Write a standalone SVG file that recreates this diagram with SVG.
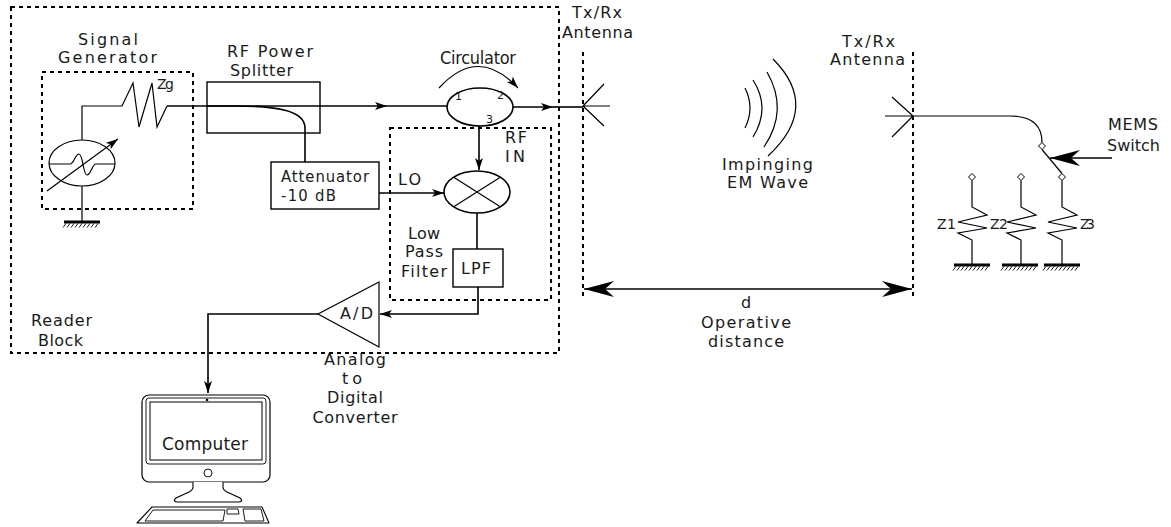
<svg xmlns="http://www.w3.org/2000/svg" xmlns:xlink="http://www.w3.org/1999/xlink" width="1171" height="527" viewBox="0 0 1171 527">
  <style>
    text { font-family: "DejaVu Sans", Verdana, sans-serif; font-size: 16px; fill: #1a1a1a; }
    .cond { font-family: "DejaVu Sans Condensed", "DejaVu Sans", sans-serif; font-size: 18px; }
    .att { font-size: 16.5px; }
    .small { font-size: 11px; }
    .lbl14 { font-size: 14px; }
    .wire { fill: none; stroke: #000; stroke-width: 1.6; }
    .thin { fill: none; stroke: #000; stroke-width: 1.2; }
    .box { fill: #fff; stroke: #000; stroke-width: 1.4; }
    .dash { fill: none; stroke: #000; stroke-width: 2; stroke-dasharray: 4 4; }
    .arrow { marker-end: url(#ah); }
  </style>
  <defs>
    <marker id="ah" viewBox="0 0 12 8" refX="12" refY="4" markerWidth="12" markerHeight="8" markerUnits="userSpaceOnUse" orient="auto">
      <path d="M0,0 L12,4 L0,8 L3,4 z" fill="#000"/>
    </marker>
    <marker id="stealth" viewBox="0 0 30 16" refX="30" refY="8" markerWidth="30" markerHeight="16" markerUnits="userSpaceOnUse" orient="auto-start-reverse">
      <path d="M30,8 L0,0 L9,8 L0,16 z" fill="#000"/>
    </marker>
    <!-- earth symbol: heavy bar with hatching underneath -->
    <g id="gnd">
      <rect x="-18" y="-1.5" width="36" height="3" fill="#000"/>
      <path d="M-16,1.5 l-3,4 M-12,1.5 l-3,4 M-8,1.5 l-3,4 M-4,1.5 l-3,4 M0,1.5 l-3,4 M4,1.5 l-3,4 M8,1.5 l-3,4 M12,1.5 l-3,4 M16,1.5 l-3,4" stroke="#000" stroke-width="0.9"/>
    </g>
    <!-- switch contact -->
    <path id="term" d="M0,-3.5 L3.5,0 L0,3.5 L-3.5,0 z" fill="#fff" stroke="#000" stroke-width="1"/>
  </defs>

  <rect width="1171" height="527" fill="#fff"/>

  <!-- block outlines -->
  <g id="reader-block">
    <rect class="dash" x="11" y="7" width="548" height="346"/>
    <text x="31" y="326" textLength="61">Reader</text>
    <text x="38" y="346" textLength="45">Block</text>
  </g>

  <g id="signal-generator">
    <rect class="dash" x="42" y="72" width="151" height="137"/>
    <text x="78" y="45" textLength="60">Signal</text>
    <text x="58" y="63" textLength="99">Generator</text>
    <ellipse class="thin" cx="82" cy="163" rx="33" ry="23" fill="#fff"/>
    <path class="thin" d="M49,164 H70 C74,164 75,154 79,154 C83,154 83,175 87,175 C91,175 92,164 96,164 H115"/>
    <path class="thin" d="M82,140 V106 H122 L133,83 L139,127 L152,83 L157,127 L167,106"/>
    <text class="lbl14" x="157" y="89" textLength="17">Zg</text>
    <path class="thin arrow" d="M47,191 L118,139"/>
    <path class="thin" d="M82,186 V222"/>
    <use xlink:href="#gnd" x="82" y="222"/>
  </g>

  <g id="power-splitter">
    <rect class="box" x="207" y="82" width="113" height="51" fill="none"/>
    <text x="227" y="57" textLength="86">RF Power</text>
    <text x="230" y="76" textLength="63">Splitter</text>
  </g>

  <g id="attenuator">
    <rect class="box" x="271" y="162" width="108" height="47"/>
    <text class="cond att" x="281" y="181.5" textLength="88">Attenuator</text>
    <text class="cond att" x="281" y="201" textLength="55">-10 dB</text>
  </g>

  <g id="circulator">
    <ellipse class="wire" cx="480" cy="107" rx="33" ry="19" fill="#fff"/>
    <text class="cond" x="478" y="64" text-anchor="middle" textLength="76">Circulator</text>
    <text class="small" x="455" y="100">1</text>
    <text class="small" x="497" y="99">2</text>
    <text class="small" x="486" y="123">3</text>
    <path class="thin arrow" d="M439,88 Q478,45 518,88"/>
  </g>

  <g id="demod-block">
    <rect class="dash" x="390" y="128" width="161" height="172"/>
    <text x="505" y="143" textLength="22">RF</text>
    <text x="505" y="162" textLength="20">IN</text>
    <text x="398" y="185" textLength="23">LO</text>
    <text x="424" y="239" text-anchor="middle" textLength="32">Low</text>
    <text x="424" y="257" text-anchor="middle" textLength="38">Pass</text>
    <text x="424" y="277" text-anchor="middle" textLength="46">Filter</text>
  </g>

  <g id="mixer">
    <ellipse class="wire" cx="477" cy="192" rx="33" ry="21" fill="#fff"/>
    <path class="thin" d="M453.7,177.2 L500.3,206.8 M500.3,177.2 L453.7,206.8"/>
  </g>

  <g id="lpf">
    <rect class="box" x="453" y="249" width="50" height="38"/>
    <text x="461" y="274" textLength="30">LPF</text>
  </g>

  <g id="adc">
    <path class="thin" d="M379,282 L379,347 L318,314 Z" fill="#fff"/>
    <text x="340" y="319" textLength="33">A/D</text>
    <text x="355" y="365" text-anchor="middle" textLength="62">Analog</text>
    <text x="352" y="384" text-anchor="middle" textLength="20">to</text>
    <text x="355" y="403" text-anchor="middle" textLength="56">Digital</text>
    <text x="355" y="423" text-anchor="middle" textLength="85">Converter</text>
  </g>

  <g id="computer">
    <rect x="142" y="395" width="128" height="87" rx="7" fill="#fff" stroke="#000" stroke-width="1.2"/>
    <rect x="146" y="398" width="120" height="66" rx="3" fill="none" stroke="#000" stroke-width="0.9"/>
    <rect x="150" y="402" width="112" height="58" fill="#fff" stroke="#000" stroke-width="1"/>
    <circle cx="207" cy="400" r="1.3" fill="#000"/>
    <circle cx="208" cy="473" r="4" fill="#fff" stroke="#000" stroke-width="0.9"/>
    <path d="M193,482 V487 Q193,490 189,492 L176,498 Q172,502 178,502 H238 Q244,502 240,498 L227,492 Q223,490 223,487 V482" fill="#fff" stroke="#000" stroke-width="1.1"/>
    <path d="M152,507 H262 L269,523 H137 Z" fill="#fff" stroke="#000" stroke-width="1.1" stroke-linejoin="round"/>
    <path d="M153,510 H225 L223,521 H145 Z" fill="none" stroke="#000" stroke-width="0.9"/>
    <path d="M227,509 H238 L239,514 H227 Z" fill="none" stroke="#000" stroke-width="0.9"/>
    <path d="M243,509 H261 L264,521 H245 Z" fill="none" stroke="#000" stroke-width="0.9"/>
    <text x="162" y="450" style="font-size:17px" textLength="86">Computer</text>
  </g>

  <g id="reader-antenna">
    <path class="dash" d="M583,52 V296"/>
    <path class="thin" d="M583,106 L604,84 M583,106 L604,126 M583,106 H610"/>
    <text x="572" y="18" textLength="50">Tx/Rx</text>
    <text x="562" y="38" textLength="71">Antenna</text>
  </g>

  <g id="em-wave">
    <path class="thin" d="M745,88 Q755,108 745,128"/>
    <path class="thin" d="M753,80 Q771,108 753,137"/>
    <path class="thin" d="M767,72 Q789,110 764,147"/>
    <path class="thin" d="M773,59 Q821,107 768,156"/>
    <text x="722" y="170" textLength="91">Impinging</text>
    <text x="727" y="188" textLength="81">EM Wave</text>
  </g>

  <g id="tag-antenna">
    <path class="dash" d="M913,52 V296"/>
    <path class="thin" d="M913,116 L892,97 M913,116 L892,137 M885,116 H913"/>
    <text x="842" y="47" textLength="53">Tx/Rx</text>
    <text x="830" y="65" textLength="75">Antenna</text>
  </g>

  <g id="mems-switch">
    <path class="thin" d="M1042,149.5 L1062,173.5" stroke-width="1.6"/>
    <use xlink:href="#term" x="1042" y="146"/>
    <use xlink:href="#term" x="1062" y="177"/>
    <text x="1108" y="130" textLength="50">MEMS</text>
    <text x="1107" y="151" textLength="53">Switch</text>
  </g>

  <g id="load-z1">
    <use xlink:href="#term" x="972" y="177"/>
    <path class="thin" d="M972,180.5 V207 L987,215 L958,222 L987,228 L958,233 L972,240 V265"/>
    <use xlink:href="#gnd" x="972" y="265"/>
    <text class="lbl14" x="937" y="229" textLength="19">Z1</text>
  </g>
  <g id="load-z2">
    <use xlink:href="#term" x="1021" y="177"/>
    <path class="thin" d="M1021,180.5 V207 L1036,215 L1007,222 L1036,228 L1007,233 L1021,240 V265"/>
    <use xlink:href="#gnd" x="1020" y="265"/>
    <text class="lbl14" x="990" y="229" textLength="18">Z2</text>
  </g>
  <g id="load-z3">
    <path class="thin" d="M1062,180.5 V207 L1077,215 L1048,222 L1077,228 L1048,233 L1062,240 V265"/>
    <use xlink:href="#gnd" x="1062" y="265"/>
    <text class="lbl14" x="1080" y="229" textLength="15">Z3</text>
  </g>

  <g id="distance">
    <path class="wire" d="M584,289 H912" stroke-width="2" marker-start="url(#stealth)" marker-end="url(#stealth)"/>
    <text x="746" y="308" text-anchor="middle">d</text>
    <text x="701" y="328" textLength="90">Operative</text>
    <text x="708" y="347" textLength="76">distance</text>
  </g>

  <!-- signal paths -->
  <g id="connectors">
    <path class="wire arrow" d="M167,106 H387"/>
    <path class="wire" d="M387,106 H447"/>
    <path class="wire" d="M207,106 H235 C275,106 305,110 305,128 V162"/>
    <path class="wire arrow" d="M513,107 H553"/>
    <path class="wire" d="M553,107 H583" stroke-width="2"/>
    <path class="wire arrow" d="M479,126 V170"/>
    <path class="wire arrow" d="M379,193 H444"/>
    <path class="wire" d="M477,213 V249"/>
    <path class="wire arrow" d="M478,287 V314 H380"/>
    <path class="wire arrow" d="M318,314 H208 V393"/>
    <path class="thin" d="M913,116 H1010 Q1042,116 1042,142.5" stroke-width="1.6"/>
    <path class="wire" d="M1112,158 H1050" marker-end="url(#stealth)"/>
  </g>
</svg>
